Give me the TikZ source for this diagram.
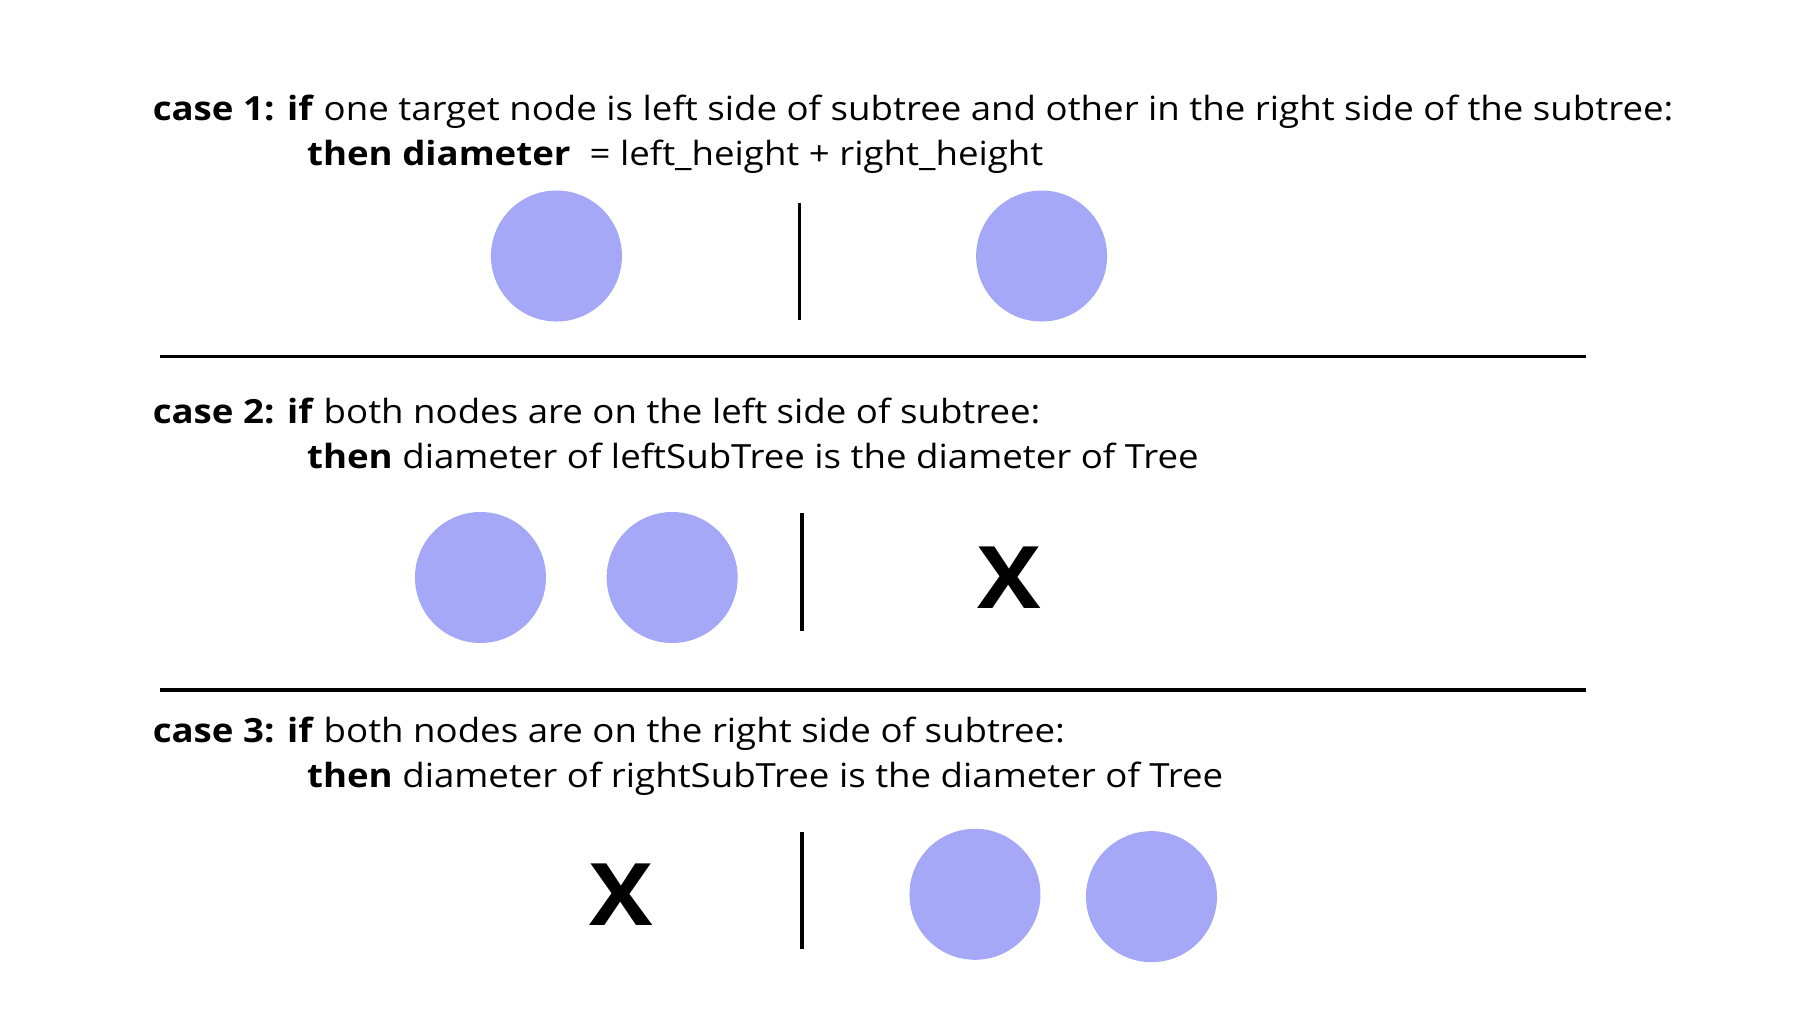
\documentclass[tikz,border=0pt]{standalone}
\usepackage{fontspec}
\setmainfont{Open Sans}[FakeStretch=1.1]
\usepackage{xcolor}
\usepackage{tikz}
\usetikzlibrary{calc,positioning}

\definecolor{leafblue}{RGB}{165,168,246}

\tikzset{
  txt/.style={anchor=base west, inner sep=0pt, font=\fontsize{8.1}{10}\selectfont},
  leaf/.style={circle, fill=leafblue, inner sep=0pt, minimum size=1.12cm},
  nope/.style={inner sep=0pt, font=\fontsize{21}{23}\selectfont\bfseries},
  divider/.style={line width=0.85pt},
  sep/.style={line width=0.9pt}
}

\begin{document}
\begin{tikzpicture}[x=0.01cm,y=-0.01cm]
\useasboundingbox (0,0) rectangle (1550,885);

% case 1
\node at (130,103) (T1) [txt]{\textbf{case 1: if} one target node is left side of subtree and other in the right side of the subtree:};
\node at (262,142) (S1) [txt]{\textbf{then diameter}\ \ = left\_height + right\_height};
\node at (476,219) (L1) [leaf]{};
\node at (891,219) (R1) [leaf]{};
\coordinate (D1a) at (684,174);
\coordinate (D1b) at (684,274);
\draw[divider] (D1a) -- (D1b);

\coordinate (H1a) at (137,305);
\coordinate (H1b) at (1357,305);
\draw[sep] (H1a) -- (H1b);

% case 2
\node at (130,362) (T2) [txt]{\textbf{case 2: if} both nodes are on the left side of subtree:};
\node at (262,401) (S2) [txt]{\textbf{then} diameter of leftSubTree is the diameter of Tree};
\node at (411,494) (L2a) [leaf]{};
\node at (575,494) (L2b) [leaf]{};
\coordinate (D2a) at (686,439);
\coordinate (D2b) at (686,540);
\draw[divider] (D2a) -- (D2b);
\node at (863,494) (X2) [nope]{X};

\coordinate (H2a) at (137,590);
\coordinate (H2b) at (1357,590);
\draw[sep] (H2a) -- (H2b);

% case 3
\node at (130,635) (T3) [txt]{\textbf{case 3: if} both nodes are on the right side of subtree:};
\node at (262,674) (S3) [txt]{\textbf{then} diameter of rightSubTree is the diameter of Tree};
\node at (531,765) (X3) [nope]{X};
\coordinate (D3a) at (686,712);
\coordinate (D3b) at (686,812);
\draw[divider] (D3a) -- (D3b);
\node at (834,765) (R3a) [leaf]{};
\node at (985,767) (R3b) [leaf]{};
\end{tikzpicture}
\end{document}
